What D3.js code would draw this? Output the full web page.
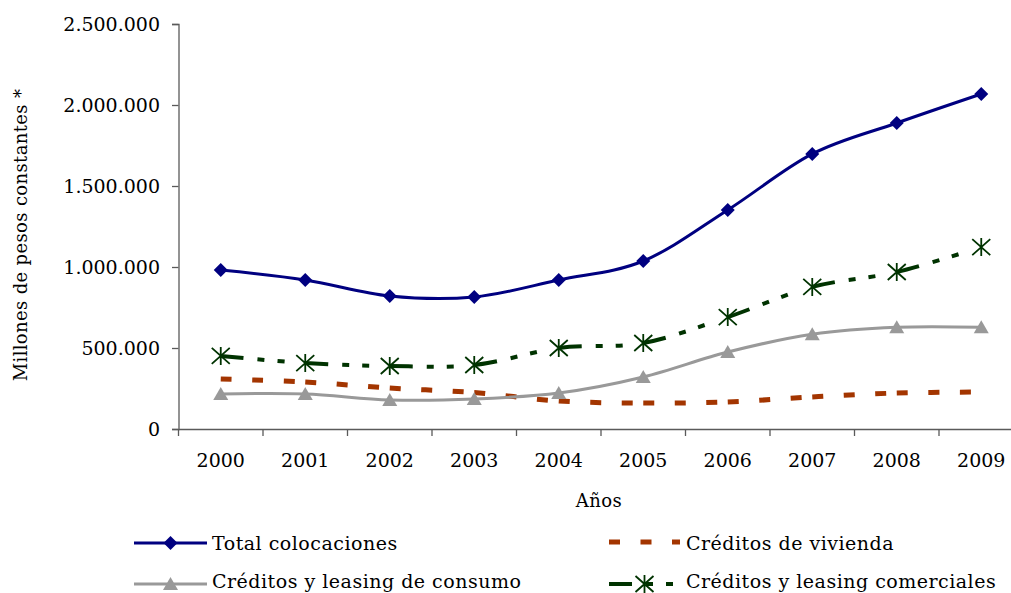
<!DOCTYPE html>
<html>
<head>
<meta charset="utf-8">
<script src="https://cdn.jsdelivr.net/npm/d3@7/dist/d3.min.js"></script>
<style>
  html, body { margin: 0; padding: 0; background: #fff; }
  svg { display: block; }
  text { font-family: "DejaVu Serif", serif; fill: #000; }
</style>
</head>
<body>
<svg id="chart" width="1011" height="593"></svg>
<script>
const years = ["2000","2001","2002","2003","2004","2005","2006","2007","2008","2009"];
const totalColocaciones = [981000, 920000, 821000, 815000, 920000, 1037000, 1352000, 1698000, 1889000, 2068000];
const creditosVivienda = [309000, 290000, 253000, 225000, 173000, 160000, 167000, 198000, 222000, 228000];
const creditosConsumo = [216000, 216000, 179000, 185000, 222000, 321000, 475000, 585000, 628000, 628000];
const creditosComerciales = [451000, 407000, 389000, 395000, 500000, 531000, 691000, 877000, 969000, 1123000];
const yTickValues = [0, 500000, 1000000, 1500000, 2000000, 2500000];
const seriesNames = ["Total colocaciones", "Créditos de vivienda", "Créditos y leasing de consumo", "Créditos y leasing comerciales"];
const yTitle = "Millones de pesos constantes *";
const xTitle = "Años";

const svg = d3.select("#chart");
const plotLeft = 178.5, plotRight = 1023.5, plotTop = 24, plotBottom = 429;

const x = d3.scaleBand().domain(years).range([plotLeft, plotRight]).padding(0);
const cx = d => x(d) + x.bandwidth() / 2;
const y = d3.scaleLinear().domain([0, 2500000]).range([plotBottom, plotTop]);

const loc = d3.formatLocale({decimal: ",", thousands: ".", grouping: [3], currency: ["$", ""]});
const fmt = loc.format(",.0f");

const axisColor = "#5a5a5a";

// Y axis
const gy = svg.append("g").attr("transform", `translate(${plotLeft},0)`)
  .call(d3.axisLeft(y).tickValues(yTickValues).tickFormat(fmt).tickSize(6.5).tickPadding(12));
gy.select(".domain").attr("stroke", axisColor).attr("stroke-width", 1.3);
gy.selectAll(".tick line").attr("stroke", axisColor).attr("stroke-width", 1.3);
gy.selectAll(".tick text").attr("font-family", "DejaVu Serif").attr("font-size", 19).attr("dy", "0.36em").attr("fill", "#000");

// X axis
const gx = svg.append("g").attr("transform", `translate(0,${plotBottom})`)
  .call(d3.axisBottom(x).tickSize(0).tickPadding(24.5).tickSizeOuter(0));
gx.select(".domain").attr("stroke", axisColor).attr("stroke-width", 1.3);
gx.selectAll(".tick text").attr("font-family", "DejaVu Serif").attr("font-size", 19).attr("fill", "#000");
// boundary ticks
gx.selectAll(".bt").data(years.concat(["__end"])).enter().append("line")
  .attr("x1", d => d === "__end" ? plotRight : x(d)).attr("x2", d => d === "__end" ? plotRight : x(d))
  .attr("y1", 0).attr("y2", 7).attr("stroke", axisColor).attr("stroke-width", 1.3);

// Titles
svg.append("text").attr("transform", `translate(27,235) rotate(-90)`)
  .attr("text-anchor", "middle").attr("font-size", 18).attr("letter-spacing", 0.35).text(yTitle);
svg.append("text").attr("x", 599).attr("y", 507).attr("text-anchor", "middle")
  .attr("font-size", 18).attr("letter-spacing", 0.4).text(xTitle);

// Dash helper: restart pattern at every vertex (Excel-like)
function lengthAtX(node, px) {
  let lo = 0, hi = node.getTotalLength();
  for (let i = 0; i < 40; i++) {
    const mid = (lo + hi) / 2;
    if (node.getPointAtLength(mid).x < px) lo = mid; else hi = mid;
  }
  return (lo + hi) / 2;
}
function applySegDash(node, xs, pattern) {
  const lens = xs.map(px => lengthAtX(node, px));
  lens[0] = 0; lens[lens.length - 1] = node.getTotalLength();
  const out = []; let lastOn = null;
  function push(on, len) {
    if (len <= 0) return;
    if (out.length && lastOn === on) { out[out.length - 1] += len; return; }
    if (out.length === 0 && !on) out.push(0);
    out.push(len); lastOn = on;
  }
  const n = pattern.length;
  for (let i = 0; i < lens.length - 1; i++) {
    const S = lens[i + 1] - lens[i];
    let pos = 0, k = 0;
    while (pos < S - 1e-6) {
      const len = Math.min(pattern[k % n], S - pos);
      push(k % 2 === 0, len);
      pos += len; k++;
    }
  }
  if (out.length % 2 === 1) out.push(0);
  d3.select(node).attr("stroke-dasharray", out.map(v => v.toFixed(2)).join(","));
}

const curve = d3.curveCardinal.tension(0);
const line = d3.line().x((d, i) => cx(years[i])).y(d => y(d)).curve(curve);

const series = [
  {name: seriesNames[0], data: totalColocaciones, color: "#000080", width: 3, marker: "diamond", dash: null},
  {name: seriesNames[1], data: creditosVivienda, color: "#A33500", width: 5, marker: null, dash: [11, 20.5]},
  {name: seriesNames[2], data: creditosConsumo, color: "#999999", width: 3, marker: "triangle", dash: null},
  {name: seriesNames[3], data: creditosComerciales, color: "#003300", width: 4, marker: "star", dash: [23, 14, 7, 13, 7, 60]}
];

function drawMarker(g, type, color, px, py) {
  if (type === "diamond") {
    g.append("path").attr("d", `M${px},${py-7}L${px+7},${py}L${px},${py+7}L${px-7},${py}Z`).attr("fill", color);
  } else if (type === "triangle") {
    g.append("path").attr("d", `M${px},${py-7}L${px+7.5},${py+6}L${px-7.5},${py+6}Z`).attr("fill", color);
  } else if (type === "star") {
    g.append("path").attr("d", `M${px-9},${py-8}L${px+9},${py+8}M${px+9},${py-8}L${px-9},${py+8}M${px},${py-9}L${px},${py+9}`)
      .attr("stroke", color).attr("stroke-width", 1.8).attr("fill", "none");
  }
}

series.forEach(s => {
  const g = svg.append("g");
  const p = g.append("path").datum(s.data).attr("d", line).attr("fill", "none")
    .attr("stroke", s.color).attr("stroke-width", s.width).attr("stroke-linecap", "butt").attr("stroke-linejoin", "round");
  if (s.dash) applySegDash(p.node(), years.map(cx), s.dash);
  if (s.marker) s.data.forEach((v, i) => drawMarker(g, s.marker, s.color, cx(years[i]), y(v)));
});

// Legend
const legendPos = [
  {x0: 134, x1: 207, ly: 543, tx: 212, ty: 550},
  {x0: 609, x1: 680, ly: 542, tx: 686, ty: 550},
  {x0: 134, x1: 207, ly: 584, tx: 212, ty: 588},
  {x0: 609, x1: 680, ly: 584, tx: 686, ty: 588}
];
series.forEach((s, i) => {
  const L = legendPos[i];
  const g = svg.append("g");
  const p = g.append("path").attr("d", `M${L.x0},${L.ly}L${L.x1},${L.ly}`).attr("fill", "none")
    .attr("stroke", s.color).attr("stroke-width", s.width);
  if (s.dash) applySegDash(p.node(), [L.x0, L.x1], s.dash);
  if (s.marker) drawMarker(g, s.marker, s.color, (L.x0 + L.x1) / 2, L.ly);
  g.append("text").attr("x", L.tx).attr("y", L.ty).attr("font-size", 19).attr("letter-spacing", 0.5).text(s.name);
});
</script>
</body>
</html>
